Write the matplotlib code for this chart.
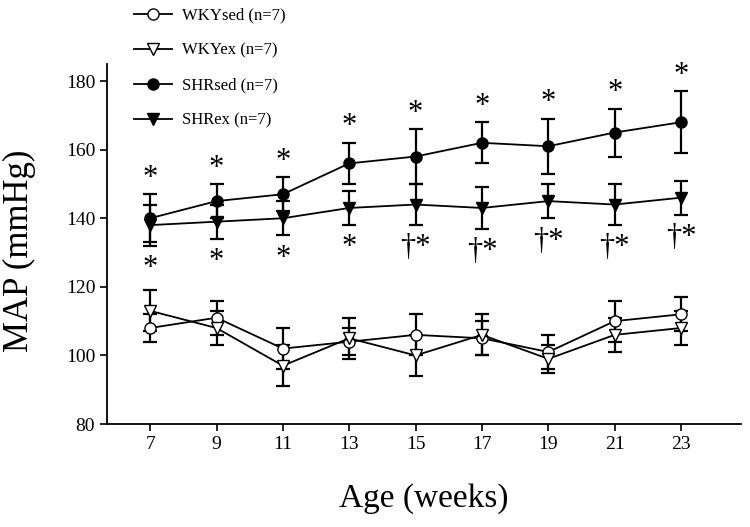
import numpy as np
import matplotlib.pyplot as plt
from matplotlib.lines import Line2D

plt.rcParams['font.family'] = ['Liberation Serif', 'DejaVu Serif']

# Age in weeks
weeks = [7, 9, 11, 13, 15, 17, 19, 21, 23]

# mean MAP and SEM per group
wky_sed = [108, 111, 102, 104, 106, 105, 101, 110, 112]
wky_sed_err = [4, 5, 6, 4, 6, 5, 5, 6, 5]
wky_ex = [113, 108, 97, 105, 100, 106, 99, 106, 108]
wky_ex_err = [6, 5, 6, 6, 6, 6, 4, 5, 5]
shr_sed = [140, 145, 147, 156, 158, 162, 161, 165, 168]
shr_sed_err = [7, 5, 5, 6, 8, 6, 8, 7, 9]
shr_ex = [138, 139, 140, 143, 144, 143, 145, 144, 146]
shr_ex_err = [6, 5, 5, 5, 6, 6, 5, 6, 5]

labels = ['WKYsed (n=7)', 'WKYex (n=7)', 'SHRsed (n=7)', 'SHRex (n=7)']

# significance marks
sed_marks = ['*'] * 9
ex_marks = ['*', '*', '*', '*', '†*', '†*', '†*', '†*', '†*']

fig = plt.figure(figsize=(7.5, 5.27), dpi=100)
ax = fig.add_axes([0.1427, 0.1954, 0.845, 0.6833])

style = dict(color='black', lw=1.3, capsize=5, elinewidth=1.6, capthick=1.6, markersize=8)
groups = [
    (wky_sed, wky_sed_err, 'o', 'white'),
    (wky_ex, wky_ex_err, 'v', 'white'),
    (shr_sed, shr_sed_err, 'o', 'black'),
    (shr_ex, shr_ex_err, 'v', 'black'),
]
handles = []
for (vals, errs, mk, fc), lab in zip(groups, labels):
    ax.errorbar(weeks, vals, yerr=errs, marker=mk, mfc=fc, mec='black', **style)
    handles.append(Line2D([], [], color='black', lw=1.3, marker=mk, mfc=fc,
                          mec='black', markersize=8, label=lab))

for w, m, e, s in zip(weeks, shr_sed, shr_sed_err, sed_marks):
    ax.annotate(s, (w, m + e), xytext=(0, 1), textcoords='offset points',
                ha='center', va='bottom', fontsize=22)
for w, m, e, s in zip(weeks, shr_ex, shr_ex_err, ex_marks):
    ax.annotate(s, (w, m - e), xytext=(0, -6), textcoords='offset points',
                ha='center', va='top', fontsize=22)

ax.set_xlim(5.7, 24.8)
ax.set_ylim(80, 185)
ax.set_xticks(weeks)
ax.set_yticks([80, 100, 120, 140, 160, 180])
ax.tick_params(labelsize=14, width=1.2, length=5, direction='out')
ax.spines['top'].set_visible(False)
ax.spines['right'].set_visible(False)
ax.spines['left'].set_linewidth(1.3)
ax.spines['bottom'].set_linewidth(1.3)
ax.set_xlabel('Age (weeks)', fontsize=24, labelpad=22)
ax.set_ylabel('MAP (mmHg)', fontsize=25)
ax.yaxis.set_label_coords(-0.112, 0.48)

fig.legend(handles=handles, loc='upper left', bbox_to_anchor=(0.165, 1.005),
           frameon=False, fontsize=12, handlelength=2.3, labelspacing=1.15,
           handletextpad=0.6, borderaxespad=0.2)

fig.savefig('out.png', dpi=100)
